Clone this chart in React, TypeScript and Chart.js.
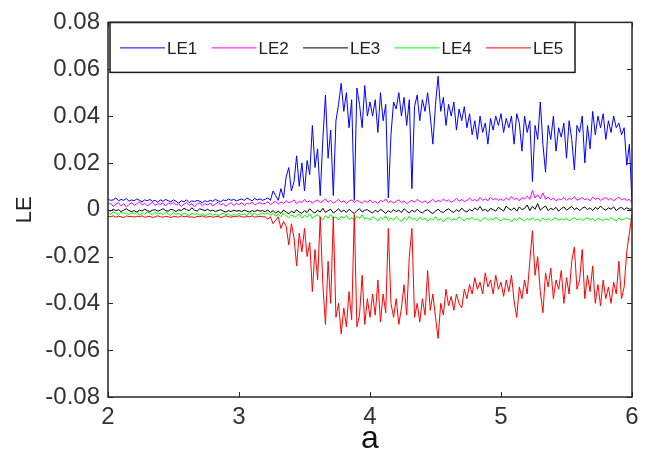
import React, { useEffect, useRef } from "react";
import { Chart, registerables } from "chart.js";

Chart.register(...registerables);

// parameter a (x values)
const A_VALUES = [
  2, 2.02, 2.04, 2.06, 2.08, 2.1, 2.12, 2.14, 2.16, 2.18,
  2.2, 2.22, 2.24, 2.26, 2.28, 2.3, 2.32, 2.34, 2.36, 2.38,
  2.4, 2.42, 2.44, 2.46, 2.48, 2.5, 2.52, 2.54, 2.56, 2.58,
  2.6, 2.62, 2.64, 2.66, 2.68, 2.7, 2.72, 2.74, 2.76, 2.78,
  2.8, 2.82, 2.84, 2.86, 2.88, 2.9, 2.92, 2.94, 2.96, 2.98,
  3, 3.02, 3.04, 3.06, 3.08, 3.1, 3.12, 3.14, 3.16, 3.18,
  3.2, 3.22, 3.24, 3.26, 3.28, 3.3, 3.32, 3.34, 3.36, 3.38,
  3.4, 3.42, 3.44, 3.46, 3.48, 3.5, 3.52, 3.54, 3.56, 3.58,
  3.6, 3.62, 3.64, 3.66, 3.68, 3.7, 3.72, 3.74, 3.76, 3.78,
  3.8, 3.82, 3.84, 3.86, 3.88, 3.9, 3.92, 3.94, 3.96, 3.98,
  4, 4.02, 4.04, 4.06, 4.08, 4.1, 4.12, 4.14, 4.16, 4.18,
  4.2, 4.22, 4.24, 4.26, 4.28, 4.3, 4.32, 4.34, 4.36, 4.38,
  4.4, 4.42, 4.44, 4.46, 4.48, 4.5, 4.52, 4.54, 4.56, 4.58,
  4.6, 4.62, 4.64, 4.66, 4.68, 4.7, 4.72, 4.74, 4.76, 4.78,
  4.8, 4.82, 4.84, 4.86, 4.88, 4.9, 4.92, 4.94, 4.96, 4.98,
  5, 5.02, 5.04, 5.06, 5.08, 5.1, 5.12, 5.14, 5.16, 5.18,
  5.2, 5.22, 5.24, 5.26, 5.28, 5.3, 5.32, 5.34, 5.36, 5.38,
  5.4, 5.42, 5.44, 5.46, 5.48, 5.5, 5.52, 5.54, 5.56, 5.58,
  5.6, 5.62, 5.64, 5.66, 5.68, 5.7, 5.72, 5.74, 5.76, 5.78,
  5.8, 5.82, 5.84, 5.86, 5.88, 5.9, 5.92, 5.94, 5.96, 5.98,
  6,
];

const LE1 = [
  0.0045, 0.004, 0.0042, 0.005, 0.0038, 0.0044, 0.004, 0.0048, 0.0036, 0.0042,
  0.0038, 0.0046, 0.004, 0.0034, 0.0042, 0.0038, 0.0044, 0.0036, 0.004, 0.0032,
  0.0042, 0.0036, 0.0044, 0.0038, 0.0034, 0.0042, 0.0036, 0.0028, 0.0038, 0.0034,
  0.0042, 0.003, 0.0038, 0.0034, 0.004, 0.0036, 0.003, 0.0038, 0.0034, 0.004,
  0.0036, 0.0044, 0.0038, 0.0034, 0.0042, 0.0038, 0.0046, 0.004, 0.0044, 0.0038,
  0.0042, 0.0046, 0.004, 0.005, 0.0044, 0.0038, 0.0048, 0.0042, 0.0046, 0.004,
  0.0045, 0.005, 0.004, 0.008, 0.006, 0.004, 0.009, 0.005, 0.014, 0.018,
  0.008, 0.012, 0.023, 0.01, 0.02, 0.008, 0.021, 0.015, 0.036, 0.018,
  0.026, 0.006, 0.03, 0.049, 0.022, 0.034, 0.006, 0.038, 0.045, 0.054,
  0.042, 0.05, 0.035, 0.047, 0.004, 0.052, 0.045, 0.035, 0.053, 0.04,
  0.046, 0.04, 0.047, 0.033, 0.05, 0.038, 0.045, 0.005, 0.032, 0.046,
  0.043, 0.05, 0.04, 0.048, 0.036, 0.047, 0.009, 0.044, 0.049, 0.038,
  0.047, 0.042, 0.05, 0.04, 0.028, 0.045, 0.057, 0.042, 0.048, 0.036,
  0.045, 0.04, 0.046, 0.034, 0.043, 0.038, 0.044, 0.035, 0.041, 0.032,
  0.038, 0.03, 0.04, 0.033, 0.037, 0.028, 0.039, 0.034, 0.04, 0.036,
  0.041, 0.033, 0.039, 0.035, 0.04, 0.028, 0.041, 0.037, 0.025, 0.04,
  0.033, 0.038, 0.012, 0.036, 0.03, 0.046, 0.028, 0.016, 0.036, 0.03,
  0.04, 0.025, 0.035, 0.031, 0.037, 0.022, 0.038, 0.03, 0.017, 0.036,
  0.033, 0.04, 0.02, 0.036, 0.026, 0.042, 0.032, 0.04, 0.035, 0.041,
  0.03, 0.038, 0.033, 0.04, 0.035, 0.037, 0.032, 0.035, 0.019, 0.028,
  0.003,
];

const LE2 = [
  0.002, 0.0028, 0.0014, 0.0024, 0.003, 0.0016, 0.0026, 0.0012, 0.0022, 0.003,
  0.0018, 0.0026, 0.0034, 0.002, 0.0028, 0.0016, 0.0024, 0.0032, 0.0018, 0.0026,
  0.0022, 0.003, 0.0016, 0.0028, 0.0024, 0.0032, 0.002, 0.0026, 0.0014, 0.0024,
  0.003, 0.0018, 0.0026, 0.0012, 0.0024, 0.003, 0.0016, 0.0026, 0.002, 0.0028,
  0.0016, 0.0024, 0.0032, 0.002, 0.0026, 0.0014, 0.0024, 0.003, 0.0018, 0.0026,
  0.0022, 0.003, 0.0018, 0.0028, 0.0024, 0.0032, 0.002, 0.0026, 0.003, 0.0024,
  0.0028, 0.0034, 0.0022, 0.003, 0.0036, 0.0024, 0.0032, 0.0026, 0.0038, 0.003,
  0.0034, 0.0042, 0.0026, 0.0036, 0.003, 0.0044, 0.0032, 0.0038, 0.0028, 0.0036,
  0.0042, 0.003, 0.0036, 0.0046, 0.0032, 0.004, 0.0028, 0.0036, 0.0044, 0.0032,
  0.0038, 0.0026, 0.0036, 0.0042, 0.003, 0.004, 0.0034, 0.0028, 0.0038, 0.0032,
  0.0042, 0.003, 0.0036, 0.0026, 0.004, 0.0034, 0.0046, 0.003, 0.0038, 0.0028,
  0.0036, 0.0042, 0.003, 0.0038, 0.0026, 0.0034, 0.004, 0.0032, 0.0044, 0.0036,
  0.003, 0.0038, 0.0028, 0.0036, 0.0044, 0.0032, 0.004, 0.0034, 0.0046, 0.0036,
  0.0042, 0.0032, 0.0038, 0.0048, 0.0036, 0.0044, 0.0034, 0.004, 0.005, 0.0038,
  0.0044, 0.0036, 0.0052, 0.004, 0.0046, 0.0038, 0.0054, 0.0042, 0.0048, 0.004,
  0.0046, 0.0038, 0.005, 0.0042, 0.0056, 0.0044, 0.0048, 0.0038, 0.0052, 0.0046,
  0.0058, 0.0044, 0.0082, 0.005, 0.0064, 0.0046, 0.0072, 0.0044, 0.0054, 0.0042,
  0.005, 0.0038, 0.0046, 0.0042, 0.0052, 0.004, 0.0048, 0.0044, 0.0056, 0.004,
  0.0046, 0.0052, 0.0042, 0.0048, 0.0038, 0.0054, 0.0044, 0.005, 0.004, 0.0046,
  0.0052, 0.0042, 0.0048, 0.0038, 0.0046, 0.0054, 0.0042, 0.0048, 0.004, 0.0044,
  0.003,
];

const LE3 = [
  -0.0002, -0.0006, 0.0002, -0.0004, 0.0, -0.0008, -0.0002, 0.0004, -0.0004, -0.0008,
  -0.0004, -0.001, -0.0002, -0.0006, 0.0002, -0.0004, -0.0008, -0.0002, 0.0, -0.0006,
  -0.0002, 0.0004, -0.0004, -0.0006, 0.0002, -0.0002, -0.0008, 0.0, -0.0004, 0.0006,
  0.0, -0.0004, 0.0008, -0.0002, -0.0006, 0.0004, 0.0, -0.0004, 0.0002, -0.0006,
  -0.0002, -0.0008, -0.0004, 0.0, -0.0006, -0.001, -0.0004, -0.0008, -0.0002, -0.0006,
  -0.0004, -0.0008, -0.0002, -0.0006, -0.001, -0.0004, -0.0008, -0.0002, -0.0006, -0.0004,
  -0.0008, -0.0002, -0.0012, -0.0004, -0.0014, -0.0006, -0.0016, -0.0002, -0.001, -0.0018,
  -0.0006, -0.0014, 0.0, -0.001, -0.0016, -0.0004, -0.0012, 0.0004, -0.0008, -0.0014,
  -0.0002, -0.001, 0.0006, -0.0012, -0.0004, 0.0002, -0.0014, -0.0006, 0.0004, -0.001,
  -0.0002, -0.0012, 0.0002, -0.0008, -0.0016, -0.0004, 0.0004, -0.001, -0.0002, 0.0,
  -0.0008, -0.0014, -0.0002, -0.001, 0.0002, -0.0006, -0.0016, -0.0004, -0.0012, 0.0,
  -0.0008, -0.0002, -0.0012, 0.0004, -0.0006, -0.0014, -0.0002, -0.001, 0.0002, -0.0008,
  -0.0014, -0.0004, 0.0, -0.001, -0.0016, -0.0006, 0.0002, -0.0008, -0.0012, -0.0002,
  0.0004, -0.0006, -0.0012, 0.0, -0.0008, 0.0006, -0.0004, -0.001, 0.0002, -0.0006,
  0.0008, -0.0002, 0.0014, -0.0004, 0.0002, -0.0008, 0.0006, 0.0, -0.0006, 0.001,
  0.0002, -0.0006, 0.0016, 0.0004, -0.0002, 0.0008, -0.0006, 0.0012, 0.0, 0.0006,
  0.002, -0.0004, 0.0014, 0.0002, 0.0026, -0.0002, 0.0008, 0.0016, -0.0004, 0.0006,
  0.0, 0.001, -0.0006, 0.0004, 0.0012, -0.0002, 0.0006, 0.0014, 0.0, 0.0008,
  -0.0004, 0.0006, 0.0012, 0.0, 0.0008, -0.0004, 0.001, 0.0002, 0.0016, 0.0004,
  -0.0002, 0.0008, 0.0002, 0.0012, -0.0004, 0.0006, 0.001, 0.0, 0.0008, 0.0002,
  0.0004,
];

const LE4 = [
  -0.0012, -0.002, -0.0008, -0.0016, -0.0024, -0.001, -0.0018, -0.0014, -0.0022, -0.0012,
  -0.0018, -0.001, -0.0024, -0.0014, -0.002, -0.0008, -0.0016, -0.0022, -0.0012, -0.0018,
  -0.0014, -0.0022, -0.001, -0.0018, -0.0024, -0.0012, -0.002, -0.0016, -0.0022, -0.0014,
  -0.002, -0.0026, -0.0014, -0.0022, -0.0016, -0.0024, -0.0018, -0.0026, -0.002, -0.0016,
  -0.0024, -0.0018, -0.0026, -0.002, -0.0014, -0.0022, -0.0018, -0.0026, -0.002, -0.0024,
  -0.0016, -0.0022, -0.0018, -0.0026, -0.0012, -0.002, -0.0016, -0.0024, -0.0018, -0.0014,
  -0.002, -0.0012, -0.0024, -0.0016, -0.0028, -0.0018, -0.003, -0.0014, -0.0026, -0.0034,
  -0.002, -0.0032, -0.0026, -0.0018, -0.0036, -0.0024, -0.0032, -0.0016, -0.0038, -0.0028,
  -0.0022, -0.0034, -0.0042, -0.0026, -0.0036, -0.002, -0.0038, -0.003, -0.0044, -0.0028,
  -0.0036, -0.0024, -0.0042, -0.0032, -0.0046, -0.0028, -0.0038, -0.0022, -0.004, -0.0034,
  -0.0044, -0.003, -0.0038, -0.0048, -0.0032, -0.0042, -0.0026, -0.0046, -0.0036, -0.0044,
  -0.003, -0.004, -0.0052, -0.0034, -0.0044, -0.0028, -0.0042, -0.0036, -0.0048, -0.0032,
  -0.0042, -0.0036, -0.005, -0.0038, -0.0044, -0.003, -0.0046, -0.0038, -0.0052, -0.004,
  -0.0034, -0.0046, -0.0038, -0.0044, -0.003, -0.004, -0.0048, -0.0036, -0.0042, -0.0034,
  -0.0044, -0.0038, -0.005, -0.004, -0.0034, -0.0046, -0.0038, -0.0044, -0.0032, -0.0042,
  -0.0048, -0.0036, -0.0044, -0.004, -0.0052, -0.0038, -0.0046, -0.0034, -0.0042, -0.0048,
  -0.0038, -0.0044, -0.0034, -0.0046, -0.004, -0.005, -0.0036, -0.0044, -0.0038, -0.0046,
  -0.004, -0.0034, -0.0046, -0.0038, -0.0044, -0.0036, -0.0048, -0.004, -0.0034, -0.0044,
  -0.0038, -0.0046, -0.004, -0.0034, -0.0044, -0.0038, -0.0048, -0.0036, -0.0042, -0.0046,
  -0.0038, -0.0044, -0.0034, -0.0042, -0.0048, -0.0036, -0.0044, -0.004, -0.0034, -0.0042,
  -0.0036,
];

const LE5 = [
  -0.0028, -0.003, -0.0026, -0.0032, -0.0028, -0.003, -0.0034, -0.0026, -0.003, -0.0028,
  -0.0032, -0.0028, -0.003, -0.0026, -0.0032, -0.003, -0.0028, -0.0034, -0.003, -0.0026,
  -0.003, -0.0032, -0.0028, -0.003, -0.0034, -0.0028, -0.003, -0.0032, -0.0026, -0.003,
  -0.0028, -0.0032, -0.003, -0.0034, -0.0028, -0.003, -0.0026, -0.0032, -0.003, -0.0028,
  -0.0032, -0.003, -0.0028, -0.0034, -0.003, -0.0026, -0.003, -0.0032, -0.0028, -0.003,
  -0.0026, -0.003, -0.0032, -0.0028, -0.003, -0.0026, -0.0032, -0.003, -0.0028, -0.003,
  -0.003, -0.004, -0.003, -0.006, -0.0045, -0.003, -0.008, -0.005, -0.007, -0.015,
  -0.006, -0.012, -0.024, -0.01, -0.018, -0.008, -0.02, -0.014, -0.035, -0.017,
  -0.03, -0.003, -0.032, -0.049, -0.022, -0.04, -0.003, -0.046, -0.04, -0.053,
  -0.042, -0.05, -0.035, -0.047, -0.002, -0.05, -0.045, -0.028, -0.049, -0.038,
  -0.046, -0.036, -0.045, -0.03, -0.048, -0.036, -0.044, -0.008, -0.04, -0.046,
  -0.038, -0.049, -0.042, -0.032, -0.045, -0.02, -0.008, -0.046, -0.04, -0.048,
  -0.038, -0.045, -0.026, -0.043, -0.036, -0.046, -0.055, -0.04, -0.045, -0.034,
  -0.041, -0.037, -0.043, -0.036, -0.04, -0.042, -0.034, -0.038, -0.032, -0.036,
  -0.029, -0.034, -0.031, -0.036, -0.027, -0.033, -0.03, -0.036, -0.028, -0.034,
  -0.031, -0.037, -0.03, -0.035, -0.028, -0.039, -0.046, -0.033, -0.038, -0.03,
  -0.036, -0.022, -0.009, -0.028, -0.02, -0.035, -0.044, -0.027, -0.033, -0.025,
  -0.038, -0.03, -0.034, -0.026, -0.04, -0.029, -0.036, -0.022, -0.016, -0.034,
  -0.03, -0.017, -0.038, -0.028, -0.035, -0.024, -0.04, -0.032, -0.041, -0.03,
  -0.038, -0.033, -0.04, -0.031, -0.036, -0.022, -0.038, -0.033, -0.018, -0.01,
  -0.002,
];

const SERIES_NAMES = ["LE1", "LE2", "LE3", "LE4", "LE5"];
const SERIES_COLORS = ["#0000ff", "#ff00ff", "#000000", "#00ff00", "#ff0000"];
const SERIES_VALUES = [LE1, LE2, LE3, LE4, LE5];

const X_MIN = 2;
const X_MAX = 6;
const Y_MIN = -0.08;
const Y_MAX = 0.08;

const FONT = '"Liberation Sans", Arial, sans-serif';

const framePlugin = {
  id: "matlabFrame",
  afterDatasetsDraw(chart: any) {
    const { ctx, chartArea } = chart;
    const { left, right, top, bottom } = chartArea;
    const xs = chart.scales.x;
    const ys = chart.scales.y;
    const tl = 5;
    ctx.save();
    ctx.strokeStyle = "#262626";
    ctx.lineWidth = 1;
    ctx.beginPath();
    ys.ticks.forEach((t: any) => {
      const y = Math.round(ys.getPixelForValue(t.value)) + 0.5;
      ctx.moveTo(left, y);
      ctx.lineTo(left + tl, y);
      ctx.moveTo(right, y);
      ctx.lineTo(right - tl, y);
    });
    xs.ticks.forEach((t: any) => {
      const x = Math.round(xs.getPixelForValue(t.value)) + 0.5;
      ctx.moveTo(x, bottom);
      ctx.lineTo(x, bottom - tl);
      ctx.moveTo(x, top);
      ctx.lineTo(x, top + tl);
    });
    ctx.stroke();

    // legend box
    const lx = left + 2;
    const ly = top;
    const lw = 465;
    const lh = 50;
    ctx.fillStyle = "#ffffff";
    ctx.fillRect(lx, ly, lw, lh);
    ctx.lineWidth = 1.5;
    ctx.strokeStyle = "#1a1a1a";
    ctx.strokeRect(lx, ly, lw, lh);

    ctx.font = "17px " + FONT;
    ctx.textBaseline = "middle";
    ctx.textAlign = "left";
    chart.data.datasets.forEach((ds: any, i: number) => {
      const x0 = lx + 10 + i * 91.5;
      const yy = ly + 25.5;
      ctx.strokeStyle = ds.borderColor;
      ctx.lineWidth = 1;
      ctx.beginPath();
      ctx.moveTo(x0, yy);
      ctx.lineTo(x0 + 45, yy);
      ctx.stroke();
      ctx.fillStyle = "#222";
      ctx.fillText(ds.label, x0 + 47, yy + 1);
    });

    // axes frame
    ctx.lineWidth = 1.5;
    ctx.strokeStyle = "#262626";
    ctx.strokeRect(left, top, right - left, bottom - top);
    ctx.restore();
  },
};

export default function App() {
  const canvasRef = useRef<HTMLCanvasElement | null>(null);

  useEffect(() => {
    const canvas = canvasRef.current;
    if (!canvas) return;
    const datasets = SERIES_NAMES.map((name, k) => ({
      label: name,
      data: A_VALUES.map((a, i) => ({ x: a, y: SERIES_VALUES[k][i] })),
      borderColor: SERIES_COLORS[k],
      backgroundColor: SERIES_COLORS[k],
      borderWidth: 1,
      pointRadius: 0,
      tension: 0,
      fill: false,
      order: SERIES_NAMES.length - k,
    }));
    const chart = new Chart(canvas, {
      type: "line",
      data: { datasets },
      options: {
        animation: false,
        responsive: false,
        maintainAspectRatio: false,
        layout: { padding: { left: 0, right: 19, top: 15, bottom: 0 } },
        plugins: {
          legend: { display: false },
          tooltip: { enabled: false },
        },
        scales: {
          x: {
            type: "linear",
            min: X_MIN,
            max: X_MAX,
            grid: { display: false, drawTicks: false },
            border: { display: false },
            ticks: {
              stepSize: 1,
              padding: 6,
              color: "#333",
              font: { family: FONT, size: 24 },
              callback: (v: any) => String(v),
            },
            title: {
              display: true,
              text: "a",
              color: "#111",
              font: { family: FONT, size: 32, lineHeight: 1.1 },
              padding: { top: 0, bottom: 0 },
            },
            afterFit: (s: any) => {
              s.height = 60;
            },
          },
          y: {
            type: "linear",
            min: Y_MIN,
            max: Y_MAX,
            grid: { display: false, drawTicks: false },
            border: { display: false },
            ticks: {
              stepSize: 0.02,
              padding: 8,
              color: "#333",
              font: { family: FONT, size: 24 },
              callback: (v: any) => String(Math.round(v * 100) / 100),
            },
            title: {
              display: true,
              text: "LE",
              color: "#222",
              font: { family: FONT, size: 22, lineHeight: 1.2 },
              padding: { top: 12, bottom: 0 },
            },
            afterFit: (s: any) => {
              s.width = 108;
            },
          },
        },
      },
      plugins: [framePlugin],
    });
    return () => chart.destroy();
  }, []);

  return (
    <div style={{ position: "fixed", left: 0, top: 0, width: 651, height: 457, background: "#fff" }}>
      <canvas ref={canvasRef} width={651} height={457} />
    </div>
  );
}
